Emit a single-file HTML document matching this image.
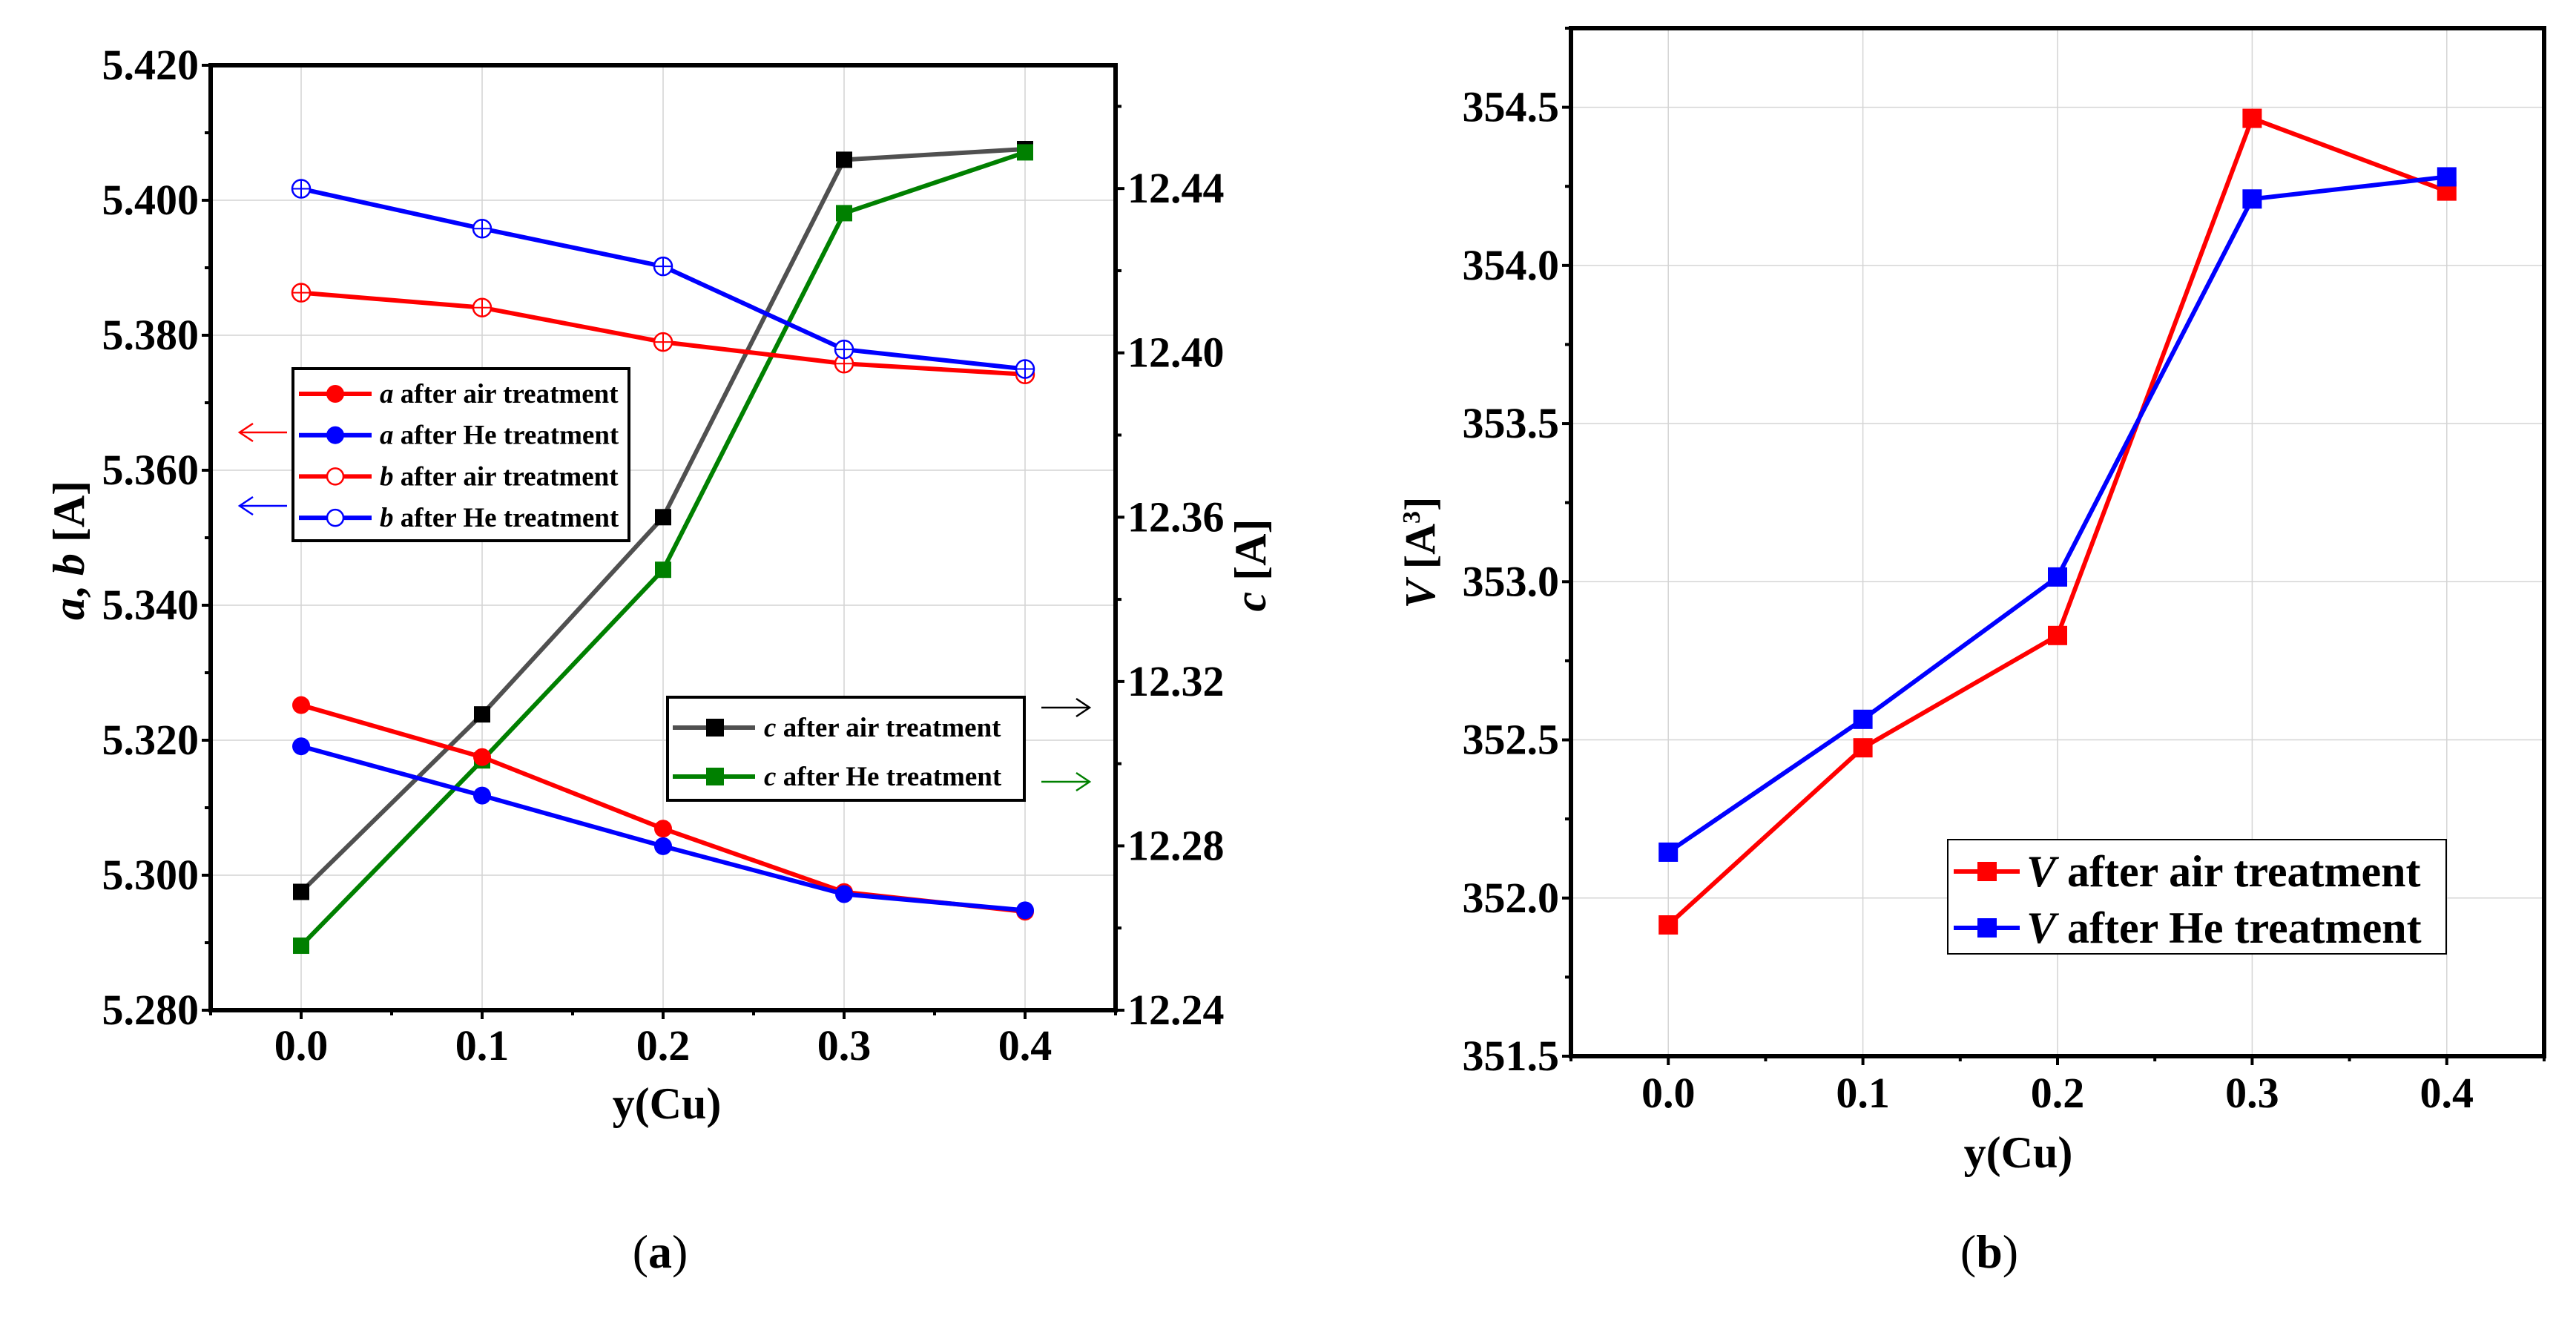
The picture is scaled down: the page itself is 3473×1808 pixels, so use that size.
<!DOCTYPE html>
<html><head><meta charset="utf-8"><style>
html,body{margin:0;padding:0;background:#fff;}
svg{display:block;font-family:"Liberation Serif",serif;font-weight:bold;}
</style></head><body>
<svg id="s" width="3473" height="1808" viewBox="0 0 3473 1808" xmlns="http://www.w3.org/2000/svg"></svg>
<script>
const xCats = [0.0, 0.1, 0.2, 0.3, 0.4];
const xTickLabels = ["0.0","0.1","0.2","0.3","0.4"];
const aAir = [5.3252, 5.3175, 5.3069, 5.2975, 5.2946];
const aHe = [5.3191, 5.3118, 5.3043, 5.2972, 5.2948];
const bAir = [5.3863, 5.3841, 5.3790, 5.3758, 5.3742];
const bHe = [5.4017, 5.3958, 5.3902, 5.3779, 5.3750];
const cAir = [12.2688, 12.312, 12.360, 12.447, 12.4496];
const cHe = [12.2557, 12.3008, 12.3472, 12.434, 12.4488];
const leftTicks = [5.280, 5.300, 5.320, 5.340, 5.360, 5.380, 5.400, 5.420];
const rightTicks = [12.24, 12.28, 12.32, 12.36, 12.40, 12.44];
const vAir = [351.915, 352.475, 352.83, 354.465, 354.235];
const vHe = [352.145, 352.565, 353.015, 354.21, 354.28];
const vTicks = [351.5, 352.0, 352.5, 353.0, 353.5, 354.0, 354.5];

const NS = "http://www.w3.org/2000/svg";
const svg = document.getElementById('s');
function el(tag, attrs, parent, text){
  const e = document.createElementNS(NS, tag);
  for (const k in attrs) e.setAttribute(k, attrs[k]);
  if (text !== undefined) e.textContent = text;
  (parent || svg).appendChild(e);
  return e;
}
function lin(d0,d1,r0,r1){return v => r0 + (v-d0)/(d1-d0)*(r1-r0);}

// ---------- Panel A ----------
const A = {l:284, r:1504, t:88, b:1362};
const ax = lin(-0.05, 0.45, A.l, A.r);
const ayL = lin(5.280, 5.420, A.b, A.t);
const ayR = lin(12.24, 12.47, A.b, A.t);
const gA = el('g', {});  
xCats.forEach(v => { const g = el('line',{x1:ax(v),x2:ax(v),y1:A.t,y2:A.b,stroke:'#d4d4d4','stroke-width':1.5},gA);   });
leftTicks.forEach(v => { const g = el('line',{x1:A.l,x2:A.r,y1:ayL(v),y2:ayL(v),stroke:'#d4d4d4','stroke-width':1.5},gA);   });
xCats.forEach((v,i) => {
  el('line',{x1:ax(v),x2:ax(v),y1:A.b,y2:A.b+12,stroke:'#000','stroke-width':4},gA);
  el('line',{x1:ax(v+0.05),x2:ax(v+0.05),y1:A.b,y2:A.b+7,stroke:'#000','stroke-width':4},gA);
  const t = el('text',{x:ax(v),y:A.b+67,'text-anchor':'middle','font-size':58},gA,xTickLabels[i]);
   
});
el('line',{x1:ax(-0.05),x2:ax(-0.05),y1:A.b,y2:A.b+7,stroke:'#000','stroke-width':4},gA);
leftTicks.forEach((v,i) => {
  el('line',{x1:A.l-12,x2:A.l,y1:ayL(v),y2:ayL(v),stroke:'#000','stroke-width':4},gA);
  if (i < leftTicks.length-1) el('line',{x1:A.l-8,x2:A.l,y1:ayL(v+0.01),y2:ayL(v+0.01),stroke:'#000','stroke-width':4},gA);
  const t = el('text',{x:A.l-16,y:ayL(v)+19,'text-anchor':'end','font-size':58},gA,v.toFixed(3));
   
});
rightTicks.forEach(v => {
  el('line',{x1:A.r,x2:A.r+12,y1:ayR(v),y2:ayR(v),stroke:'#000','stroke-width':4},gA);
  el('line',{x1:A.r,x2:A.r+8,y1:ayR(v+0.02),y2:ayR(v+0.02),stroke:'#000','stroke-width':4},gA);
  const t = el('text',{x:A.r+16,y:ayR(v)+19,'text-anchor':'start','font-size':58},gA,v.toFixed(2));
   
});
function series(g, xs, ys, xf, yf, color, marker, name, size, lineColor){
  const pts = xs.map((x,i)=>xf(x)+','+yf(ys[i])).join(' ');
  const pl = el('polyline',{points:pts,fill:'none',stroke:lineColor||color,'stroke-width':6},g);
   
  xs.forEach((x,i)=>{
    const cx = xf(x), cy = yf(ys[i]); let m;
    if (marker==='circle') m = el('circle',{cx:cx,cy:cy,r:size,fill:color},g);
    else if (marker==='ocircle') { m = el('circle',{cx:cx,cy:cy,r:size,fill:'#fff',stroke:color,'stroke-width':2.5},g);
      el('line',{x1:cx-size,x2:cx+size,y1:cy,y2:cy,stroke:color,'stroke-width':2},g);
      el('line',{x1:cx,x2:cx,y1:cy-size,y2:cy+size,stroke:color,'stroke-width':2},g); }
    else m = el('rect',{x:cx-size,y:cy-size,width:size*2,height:size*2,fill:color},g);
     
  });
}
series(gA,xCats,cAir,ax,ayR,'#000','square','c-air',11,'#505050');
series(gA,xCats,cHe,ax,ayR,'#008000','square','c-he',11);
series(gA,xCats,bAir,ax,ayL,'#ff0000','ocircle','b-air',12);
series(gA,xCats,bHe,ax,ayL,'#0000ff','ocircle','b-he',12);
series(gA,xCats,aAir,ax,ayL,'#ff0000','circle','a-air',12);
series(gA,xCats,aHe,ax,ayL,'#0000ff','circle','a-he',12);
el('rect',{x:A.l,y:A.t,width:A.r-A.l,height:A.b-A.t,fill:'none',stroke:'#000','stroke-width':6},gA);
const lg1 = el('g',{},gA);  
el('rect',{x:395,y:497,width:453,height:232,fill:'#fff',stroke:'#000','stroke-width':4},lg1);
[['a','after air treatment','#ff0000',true],['a','after He treatment','#0000ff',true],['b','after air treatment','#ff0000',false],['b','after He treatment','#0000ff',false]].forEach((r,i)=>{
  const y = 531 + i*55.7;
  el('line',{x1:403,x2:501,y1:y,y2:y,stroke:r[2],'stroke-width':6},lg1);
  if (r[3]) el('circle',{cx:452,cy:y,r:12,fill:r[2]},lg1); else el('circle',{cx:452,cy:y,r:11,fill:'#fff',stroke:r[2],'stroke-width':2.5},lg1);
  const t = el('text',{x:512,y:y+12,'font-size':37},lg1);
   
  el('tspan',{'font-style':'italic'},t,r[0]); el('tspan',{},t,' '+r[1]);
});
const lg2 = el('g',{},gA);  
el('rect',{x:900,y:940,width:481,height:139,fill:'#fff',stroke:'#000','stroke-width':4},lg2);
[['after air treatment','#505050','#000'],['after He treatment','#008000','#008000']].forEach((r,i)=>{
  const y = 981 + i*66;
  el('line',{x1:907,x2:1018,y1:y,y2:y,stroke:r[1],'stroke-width':6},lg2);
  el('rect',{x:952,y:y-12,width:24,height:24,fill:r[2]},lg2);
  const t = el('text',{x:1030,y:y+12,'font-size':37},lg2);
   
  el('tspan',{'font-style':'italic'},t,'c'); el('tspan',{},t,' '+r[0]);
});
function arrow(x1,x2,y,color,name){
  const g = el('g',{},gA);  
  el('line',{x1:x1,x2:x2,y1:y,y2:y,stroke:color,'stroke-width':2.5},g);
  const d = x2>x1?-1:1;
  el('polyline',{points:`${x2+d*18},${y-12} ${x2},${y} ${x2+d*18},${y+12}`,fill:'none',stroke:color,'stroke-width':2.5},g);
}
arrow(387,323,583,'#ff0000','arrow-left-red');
arrow(387,323,682,'#0000ff','arrow-left-blue');
arrow(1404,1469,954,'#000','arrow-right-black');
arrow(1404,1469,1054,'#008000','arrow-right-green');
let t;
t = el('text',{x:0,y:0,'font-size':60,'text-anchor':'middle',transform:'translate(113,742) rotate(-90)'},gA);
 
el('tspan',{'font-style':'italic'},t,'a'); el('tspan',{},t,', '); el('tspan',{'font-style':'italic'},t,'b'); el('tspan',{},t,' [A]');
t = el('text',{x:0,y:0,'font-size':60,'text-anchor':'middle',transform:'translate(1706,762) rotate(-90)'},gA);
 
el('tspan',{'font-style':'italic'},t,'c'); el('tspan',{},t,' [A]');
t = el('text',{x:899,y:1508,'font-size':60,'text-anchor':'middle'},gA,'y(Cu)');
 
t = el('text',{x:890,y:1709,'font-size':64,'text-anchor':'middle','font-weight':'normal'},gA);
 
el('tspan',{},t,'('); el('tspan',{'font-weight':'bold'},t,'a'); el('tspan',{},t,')');

// ---------- Panel B ----------
const B = {l:2118, r:3430, t:38, b:1424};
const bx = lin(-0.05, 0.45, B.l, B.r);
const by = lin(351.5, 354.75, B.b, B.t);
const gB = el('g', {});  
xCats.forEach(v => { const g = el('line',{x1:bx(v),x2:bx(v),y1:B.t,y2:B.b,stroke:'#d4d4d4','stroke-width':1.5},gB);   });
vTicks.forEach(v => { const g = el('line',{x1:B.l,x2:B.r,y1:by(v),y2:by(v),stroke:'#d4d4d4','stroke-width':1.5},gB);   });
xCats.forEach((v,i) => {
  el('line',{x1:bx(v),x2:bx(v),y1:B.b,y2:B.b+12,stroke:'#000','stroke-width':4},gB);
  el('line',{x1:bx(v+0.05),x2:bx(v+0.05),y1:B.b,y2:B.b+7,stroke:'#000','stroke-width':4},gB);
  const tt = el('text',{x:bx(v),y:B.b+69,'text-anchor':'middle','font-size':58},gB,xTickLabels[i]);
   
});
el('line',{x1:bx(-0.05),x2:bx(-0.05),y1:B.b,y2:B.b+7,stroke:'#000','stroke-width':4},gB);
vTicks.forEach(v => {
  el('line',{x1:B.l-12,x2:B.l,y1:by(v),y2:by(v),stroke:'#000','stroke-width':4},gB);
  el('line',{x1:B.l-8,x2:B.l,y1:by(v+0.25),y2:by(v+0.25),stroke:'#000','stroke-width':4},gB);
  const tt = el('text',{x:B.l-16,y:by(v)+19,'text-anchor':'end','font-size':58},gB,v.toFixed(1));
   
});
series(gB,xCats,vAir,bx,by,'#ff0000','square','v-air',13);
series(gB,xCats,vHe,bx,by,'#0000ff','square','v-he',13);
el('rect',{x:B.l,y:B.t,width:B.r-B.l,height:B.b-B.t,fill:'none',stroke:'#000','stroke-width':6},gB);
const lg3 = el('g',{},gB);  
el('rect',{x:2626,y:1132,width:672,height:154,fill:'#fff',stroke:'#000','stroke-width':2},lg3);
[['after air treatment','#ff0000'],['after He treatment','#0000ff']].forEach((r,i)=>{
  const y = 1175 + i*76;
  el('line',{x1:2634,x2:2723,y1:y,y2:y,stroke:r[1],'stroke-width':6},lg3);
  el('rect',{x:2666,y:y-13,width:26,height:26,fill:r[1]},lg3);
  const tt = el('text',{x:2732,y:y+20,'font-size':60},lg3);
   
  el('tspan',{'font-style':'italic'},tt,'V'); el('tspan',{},tt,' '+r[0]);
});
t = el('text',{x:0,y:0,'font-size':58,'text-anchor':'middle',transform:'translate(1934,745) rotate(-90)'},gB);
 
el('tspan',{'font-style':'italic'},t,'V'); el('tspan',{},t,' [A'); el('tspan',{'font-size':34,dy:-20},t,'3'); el('tspan',{dy:20},t,']');
t = el('text',{x:2721,y:1574,'font-size':60,'text-anchor':'middle'},gB,'y(Cu)');
 
t = el('text',{x:2682,y:1709,'font-size':64,'text-anchor':'middle','font-weight':'normal'},gB);
 
el('tspan',{},t,'('); el('tspan',{'font-weight':'bold'},t,'b'); el('tspan',{},t,')');
</script>
</body></html>
